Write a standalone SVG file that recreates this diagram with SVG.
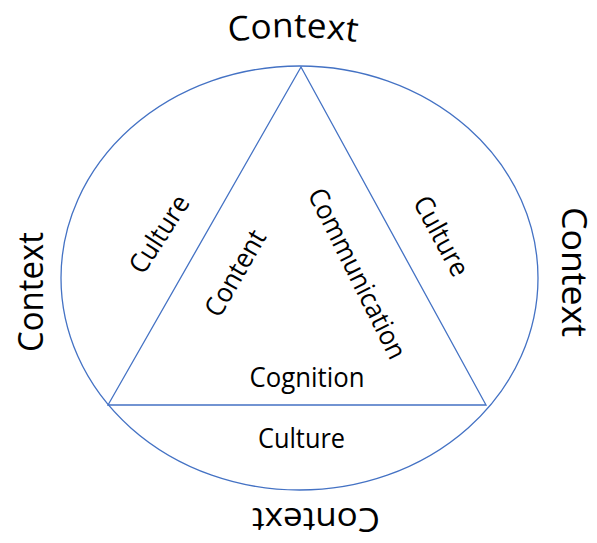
<svg xmlns="http://www.w3.org/2000/svg" width="597" height="543" viewBox="0 0 597 543">
<style>
.shape{fill:none;stroke:#4472C4;stroke-width:1.3}
.big{font-family:"Open Sans","Liberation Sans",sans-serif;font-size:34px;fill:#000}
.lbl{font-family:"Open Sans","Liberation Sans",sans-serif;font-size:27px;fill:#000}
</style>
<defs>
<path id="topArc" d="M 203 47 A 420 420 0 0 1 383 47"/>
</defs>
<rect width="597" height="543" fill="#fff"/>
<g id="connectors">
<ellipse id="circle" class="shape" cx="299.5" cy="278" rx="238.5" ry="212"/>
<polygon id="triangle" class="shape" points="301,67 108,405 486,405"/>
</g>
<g id="context-top"><text class="big" text-anchor="middle"><textPath href="#topArc" startOffset="50%" textLength="128" lengthAdjust="spacingAndGlyphs">Context</textPath></text></g>
<g id="context-left"><text class="big" text-anchor="middle" transform="translate(43,292) rotate(-90)" textLength="120" lengthAdjust="spacingAndGlyphs">Context</text></g>
<g id="context-right"><text class="big" text-anchor="middle" transform="translate(562,272) rotate(90)" textLength="130" lengthAdjust="spacingAndGlyphs">Context</text></g>
<g id="context-bottom"><text class="big" text-anchor="middle" transform="translate(316,508) rotate(180)" style="font-size:33px" textLength="128" lengthAdjust="spacingAndGlyphs">Context</text></g>
<g id="culture-left"><text class="lbl" text-anchor="middle" transform="translate(159,234) rotate(-57)" y="9.5" textLength="87" lengthAdjust="spacingAndGlyphs">Culture</text></g>
<g id="content"><text class="lbl" text-anchor="middle" transform="translate(235,273) rotate(-60)" y="9.5" textLength="95" lengthAdjust="spacingAndGlyphs">Content</text></g>
<g id="communication"><text class="lbl" text-anchor="middle" transform="translate(357.5,273.5) rotate(63.5)" y="9.5" textLength="187" lengthAdjust="spacingAndGlyphs">Communication</text></g>
<g id="culture-right"><text class="lbl" text-anchor="middle" transform="translate(441.5,236) rotate(61.5)" y="9.5" textLength="87" lengthAdjust="spacingAndGlyphs">Culture</text></g>
<g id="cognition"><text class="lbl" text-anchor="middle" x="307" y="387" textLength="115" lengthAdjust="spacingAndGlyphs">Cognition</text></g>
<g id="culture-bottom"><text class="lbl" text-anchor="middle" x="301.5" y="448" textLength="87" lengthAdjust="spacingAndGlyphs">Culture</text></g>
</svg>
